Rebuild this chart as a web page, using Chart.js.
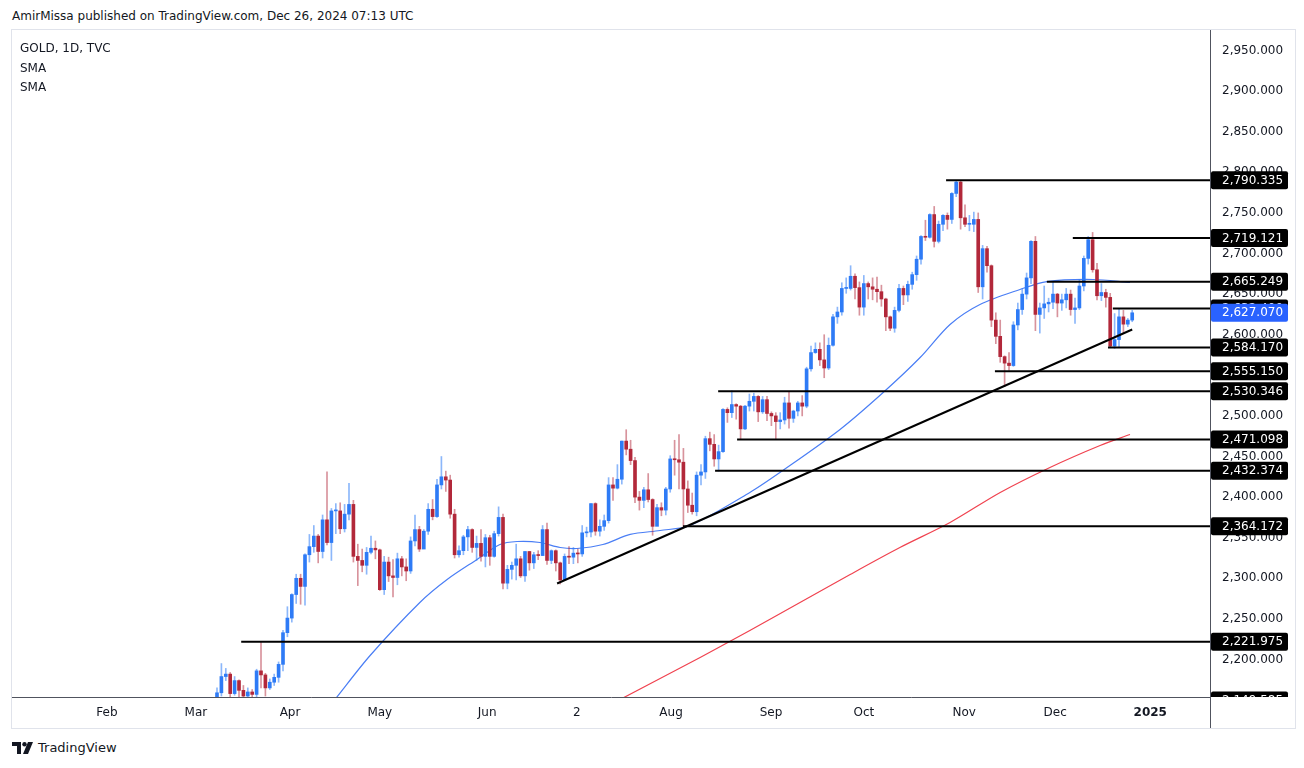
<!DOCTYPE html>
<html>
<head>
<meta charset="utf-8">
<script src="https://cdn.jsdelivr.net/npm/chart.js@4.4.1/dist/chart.umd.min.js"></script>
<style>
  body { margin:0; background:#fff; width:1304px; height:768px; overflow:hidden; font-family:"DejaVu Sans", sans-serif; color:#131722; }
  #title { position:absolute; left:12px; top:9px; font-size:12px; }
  #frame { position:absolute; left:12px; top:30px; width:1283px; height:698px; }
  #border { position:absolute; left:11px; top:29px; width:1283px; height:698px; border:1px solid #e0e3eb; pointer-events:none; }
  #legend { position:absolute; left:20px; top:39px; font-size:12px; line-height:19.5px; z-index:2; }
  #logo { position:absolute; left:12px; top:740px; font-size:13px; display:flex; align-items:center; gap:4px; }
</style>
</head>
<body>
<div id="title">AmirMissa published on TradingView.com, Dec 26, 2024 07:13 UTC</div>
<div id="frame"><canvas id="chart"></canvas></div>
<div id="border"></div>
<div id="legend">GOLD, 1D, TVC<br>SMA<br>SMA</div>
<div id="logo">
  <svg width="22" height="12" viewBox="0 0 22 12"><path d="M0 0H9V12H5V4H0Z" fill="#131722"/><circle cx="12.5" cy="2.2" r="2.2" fill="#131722"/><path d="M16 0H21L16 12H11Z" fill="#131722"/></svg>
  <span>TradingView</span>
</div>
<script>
// daily candles [open, high, low, close], one row per trading day
// bar index 0 = Feb 1 2024, first visible candle is Mar 6 (index 24)
const firstBar = 24;
const mar = [
  [2128,2152,2126,2148],[2148,2165,2141,2159],[2159,2195,2155,2179],[2179,2189,2174,2182],
  [2182,2184,2149,2158],[2158,2179,2156,2174],[2174,2175,2153,2162],[2162,2168,2150,2155],
  [2155,2165,2152,2160],[2160,2163,2146,2157],[2157,2188,2146,2186],[2186,2222,2165,2181],
  [2181,2183,2155,2165],[2165,2176,2163,2172],[2172,2182,2168,2178],[2178,2197,2172,2194],
  [2194,2236,2186,2233]
];
const apr = [
  [2233,2265,2228,2251],[2251,2281,2246,2280],[2280,2305,2269,2300],[2300,2305,2268,2290],
  [2290,2330,2267,2329],[2329,2354,2320,2339],[2339,2365,2332,2352],[2352,2354,2319,2333],
  [2333,2378,2325,2372],[2372,2431,2341,2344],[2344,2386,2322,2383],[2383,2392,2355,2383],
  [2383,2393,2355,2361],[2361,2391,2357,2379],[2379,2417,2372,2391],[2391,2396,2320,2327],
  [2327,2342,2291,2322],[2322,2336,2308,2316],[2316,2338,2305,2332],[2332,2352,2330,2337],
  [2337,2346,2324,2335],[2335,2336,2285,2286]
];
const may = [
  [2286,2327,2280,2320],[2320,2326,2296,2303],[2303,2323,2277,2301],[2301,2331,2292,2324],
  [2324,2327,2303,2314],[2314,2324,2297,2309],[2309,2351,2306,2346],[2346,2378,2340,2360],
  [2360,2364,2333,2336],[2336,2360,2337,2358],[2358,2392,2354,2385],[2385,2397,2372,2376],
  [2376,2422,2375,2415],[2415,2450,2410,2425],[2425,2432,2407,2421],[2421,2427,2374,2379],
  [2379,2385,2325,2329],[2329,2340,2326,2334],[2334,2353,2329,2351],[2351,2364,2334,2360],
  [2360,2361,2332,2338],[2338,2352,2322,2343],[2343,2360,2321,2327]
];
const jun = [
  [2327,2354,2314,2350],[2350,2353,2316,2327],[2327,2358,2326,2355],[2355,2388,2352,2375],
  [2375,2379,2287,2294],[2294,2316,2287,2311],[2311,2320,2299,2316],[2316,2342,2298,2324],
  [2324,2327,2301,2303],[2303,2333,2296,2333],[2333,2333,2310,2319],[2319,2332,2312,2329],
  [2329,2334,2323,2328],[2328,2365,2328,2360],[2360,2368,2317,2322],[2322,2335,2318,2334],
  [2334,2335,2309,2319],[2319,2320,2293,2298],[2298,2330,2298,2327],[2327,2339,2318,2326]
];
const jul = [
  [2326,2338,2318,2331],[2331,2336,2319,2330],[2330,2365,2327,2356],[2356,2363,2351,2357],
  [2357,2392,2351,2392],[2392,2393,2353,2358],[2358,2372,2352,2364],[2364,2378,2359,2371],
  [2371,2424,2368,2415],[2415,2424,2396,2411],[2411,2440,2410,2422],[2422,2469,2416,2469],
  [2469,2483,2452,2459],[2459,2470,2440,2445],[2445,2449,2393,2400],[2400,2407,2384,2396],
  [2396,2412,2387,2409],[2409,2429,2394,2397],[2397,2398,2353,2364],[2364,2391,2365,2387],
  [2387,2393,2377,2384],[2384,2412,2378,2410],[2410,2451,2406,2447]
];
const aug = [
  [2447,2470,2427,2446],[2446,2477,2410,2443],[2443,2460,2364,2410],[2410,2420,2381,2390],
  [2390,2405,2379,2382],[2382,2431,2377,2427],[2427,2440,2415,2431],[2431,2475,2423,2472],
  [2472,2480,2457,2465],[2465,2477,2438,2447],[2447,2464,2432,2456],[2456,2509,2455,2508],
  [2508,2510,2492,2504],[2504,2531,2498,2514],[2514,2515,2496,2512],[2512,2513,2471,2484],
  [2484,2513,2483,2512],[2512,2527,2506,2518],[2518,2528,2506,2524],[2524,2525,2493,2505],
  [2505,2524,2503,2520],[2520,2524,2494,2503]
];
const sep = [
  [2503,2505,2488,2500],[2500,2504,2472,2493],[2493,2504,2484,2495],[2495,2523,2490,2516],
  [2516,2529,2485,2497],[2497,2507,2492,2506],[2506,2518,2500,2516],[2516,2525,2500,2512],
  [2512,2560,2510,2558],[2558,2586,2555,2578],[2578,2590,2577,2582],[2582,2590,2562,2569],
  [2569,2600,2547,2559],[2559,2596,2557,2587],[2587,2625,2586,2622],[2622,2634,2614,2628],
  [2628,2664,2624,2657],[2657,2670,2651,2657],[2657,2685,2655,2672],[2672,2675,2644,2658],
  [2658,2665,2624,2634]
];
const oct = [
  [2634,2673,2624,2663],[2663,2665,2644,2659],[2659,2670,2643,2656],[2656,2671,2640,2653],
  [2653,2661,2635,2644],[2644,2645,2605,2622],[2622,2623,2605,2608],[2608,2634,2603,2630],
  [2630,2662,2628,2657],[2657,2660,2637,2649],[2649,2666,2641,2662],[2662,2677,2656,2674],
  [2674,2697,2667,2693],[2693,2722,2687,2721],[2721,2741,2716,2720],[2720,2749,2719,2748],
  [2748,2758,2708,2715],[2715,2740,2713,2736],[2736,2748,2728,2747],[2747,2750,2730,2742],
  [2742,2775,2737,2774],[2774,2790,2770,2788],[2788,2790,2730,2744]
];
const nov = [
  [2744,2760,2733,2736],[2736,2747,2728,2736],[2736,2751,2727,2742],[2742,2750,2652,2659],
  [2659,2710,2644,2706],[2706,2709,2677,2685],[2685,2686,2610,2618],[2618,2627,2589,2598],
  [2598,2618,2566,2573],[2573,2574,2536,2565],[2565,2578,2556,2562],[2562,2616,2561,2612],
  [2612,2639,2606,2631],[2631,2656,2625,2650],[2650,2676,2644,2670],[2670,2716,2663,2715],
  [2715,2721,2605,2625],[2625,2639,2602,2633],[2633,2660,2620,2638],[2638,2645,2628,2640],
  [2640,2665,2632,2650]
];
const dec = [
  [2650,2651,2622,2639],[2639,2650,2630,2643],[2643,2657,2633,2650],[2650,2655,2624,2631],
  [2631,2645,2614,2633],[2633,2668,2631,2660],[2660,2697,2654,2694],[2694,2721,2687,2717],
  [2717,2726,2677,2680],[2680,2688,2643,2648],[2648,2663,2642,2652],[2652,2656,2634,2646],
  [2646,2651,2584,2586],[2586,2626,2583,2594],[2594,2632,2584,2622],[2622,2630,2602,2613],
  [2613,2620,2610,2618],[2618,2630,2616,2627]
];

// moving averages (bar index, price)
const smaFastX = [51.8, 59.8, 71.1, 77.3, 84.1, 89.3, 93.2, 98.4, 103, 106.8, 112.7, 118.9, 125.7, 132.5, 146.1, 153.6, 166.6, 176.4, 184.8, 191.6, 198.4, 207.5, 213.6, 224.1, 232.5];
const smaFastY = [2150.7, 2204.9, 2270.2, 2298.5, 2323.2, 2341.6, 2345.3, 2344.1, 2337.9, 2336.7, 2341.6, 2354.0, 2358.9, 2365.0, 2405.7, 2432.8, 2483.3, 2528.8, 2571.9, 2612.6, 2637.2, 2655.7, 2665.5, 2668.0, 2664.3];
const smaSlowX = [116.6, 134.8, 146.1, 157.5, 168.9, 180.2, 191.6, 203, 214.3, 225.7, 232.5];
const smaSlowY = [2150.7, 2202.5, 2235.7, 2270.2, 2304.7, 2337.9, 2368.7, 2405.7, 2436.5, 2463.6, 2477.1];

// horizontal levels and where each drawing starts (bar index)
const levelValues = [2790.335, 2719.121, 2665.249, 2632.4, 2584.170, 2555.150, 2530.346, 2471.098, 2432.374, 2364.172, 2221.975];
const levelStarts = [190.7, 219.5, 213.6, 228.6, 227.5, 201.8, 138.9, 143.2, 138.2, 130.9, 30.5];
const bottomTag = 2149.585;
const lastPrice = 2627.070;

// trend line
const trendX = [102.3, 233];
const trendY = [2293.6, 2606.4];

// axes
const yTicks = [2200, 2250, 2300, 2350, 2400, 2450, 2500, 2550, 2600, 2650, 2700, 2750, 2800, 2850, 2900, 2950];
const monthLabels = ['Feb', 'Mar', 'Apr', 'May', 'Jun', '2', 'Aug', 'Sep', 'Oct', 'Nov', 'Dec', '2025'];
const monthPos = [0, 20.2, 41.6, 62, 86.4, 106.8, 128.2, 150.9, 172, 194.8, 215.5, 237.1];

const candles = [].concat(mar, apr, may, jun, jul, aug, sep, oct, nov, dec);
const UP = '#2e7bf6', DOWN = '#b2283a';
const UP_WICK = 'rgba(46,123,246,0.55)', DOWN_WICK = 'rgba(178,40,58,0.5)';
const isUp = c => c[3] >= c[0];

const fmt = v => v.toLocaleString('en-US', {minimumFractionDigits: 3, maximumFractionDigits: 3});

const datasets = [];
datasets.push({
  type: 'line', label: 'sma50', order: 6,
  data: smaFastX.map((x, i) => ({x, y: smaFastY[i]})),
  borderColor: '#4a7ef5', borderWidth: 1.2, pointRadius: 0, tension: 0.3
});
datasets.push({
  type: 'line', label: 'sma200', order: 6,
  data: smaSlowX.map((x, i) => ({x, y: smaSlowY[i]})),
  borderColor: '#f0424f', borderWidth: 1.2, pointRadius: 0, tension: 0.3
});
datasets.push({
  type: 'bar', label: 'wicks', order: 5, grouped: false,
  data: candles.map((c, i) => ({x: firstBar + i, y: [c[2], c[1]]})),
  backgroundColor: candles.map(c => isUp(c) ? UP_WICK : DOWN_WICK),
  barThickness: 1
});
datasets.push({
  type: 'bar', label: 'bodies', order: 4, grouped: false,
  data: candles.map((c, i) => ({x: firstBar + i, y: [c[0], c[3]]})),
  backgroundColor: candles.map(c => isUp(c) ? UP : DOWN),
  barThickness: 3, minBarLength: 1
});
levelValues.forEach((v, i) => {
  datasets.push({
    type: 'line', label: 'level' + i, order: 2,
    data: [{x: levelStarts[i], y: v}, {x: 260, y: v}],
    borderColor: '#000', borderWidth: 2, pointRadius: 0
  });
});
datasets.push({
  type: 'line', label: 'trend', order: 1,
  data: trendX.map((x, i) => ({x, y: trendY[i]})),
  borderColor: '#000', borderWidth: 2, pointRadius: 0
});

// price tags on the right scale + separators
const tagPlugin = {
  id: 'tags',
  afterDraw(chart) {
    const ctx = chart.ctx, y = chart.scales.y, area = chart.chartArea;
    ctx.save();
    ctx.strokeStyle = '#50535e';
    ctx.lineWidth = 1;
    ctx.beginPath();
    ctx.moveTo(Math.round(area.right) + 0.5, 0);
    ctx.lineTo(Math.round(area.right) + 0.5, chart.height);
    ctx.stroke();
    ctx.beginPath();
    ctx.rect(area.right, 0, chart.width - area.right, area.bottom);
    ctx.clip();
    ctx.font = '12px "DejaVu Sans"';
    ctx.textBaseline = 'middle';
    const tag = (v, color) => {
      const py = y.getPixelForValue(v);
      ctx.fillStyle = color;
      ctx.beginPath();
      ctx.roundRect(area.right + 1, py - 9, 77, 18, 2);
      ctx.fill();
      ctx.fillStyle = '#fff';
      ctx.fillText(fmt(v), area.right + 12, py + 0.5);
    };
    levelValues.forEach(v => tag(v, '#000'));
    tag(bottomTag, '#000');
    tag(lastPrice, '#2962ff');
    ctx.restore();
  }
};

Chart.defaults.font.family = '"DejaVu Sans", sans-serif';
Chart.defaults.font.size = 12;
Chart.defaults.color = '#131722';

new Chart(document.getElementById('chart'), {
  type: 'bar',
  data: { datasets },
  options: {
    responsive: true, maintainAspectRatio: false, animation: false,
    layout: { padding: 0 },
    plugins: { legend: { display: false }, tooltip: { enabled: false } },
    scales: {
      x: {
        type: 'linear', offset: false, min: -21.59, max: 250.68,
        grid: { display: false, drawTicks: false },
        border: { display: true, color: '#50535e' },
        afterBuildTicks: s => { s.ticks = monthPos.map(v => ({value: v})); },
        afterFit: s => { s.height = 31; s.paddingLeft = 0; s.paddingRight = 0; },
        ticks: {
          padding: 9, autoSkip: false, maxRotation: 0,
          callback: (v, i) => monthLabels[i],
          font: c => ({ family: '"DejaVu Sans", sans-serif', size: 12, weight: c.index === monthLabels.length - 1 ? 'bold' : 'normal' })
        }
      },
      y: {
        position: 'right', min: 2153.8, max: 2975.3,
        grid: { display: false, drawTicks: false },
        border: { display: true, color: '#50535e' },
        afterBuildTicks: s => { s.ticks = yTicks.map(v => ({value: v})); },
        afterFit: s => { s.width = 85; s.paddingTop = 0; s.paddingBottom = 0; },
        ticks: { padding: 12, callback: v => fmt(v) }
      }
    }
  },
  plugins: [tagPlugin]
});
</script>
</body>
</html>
